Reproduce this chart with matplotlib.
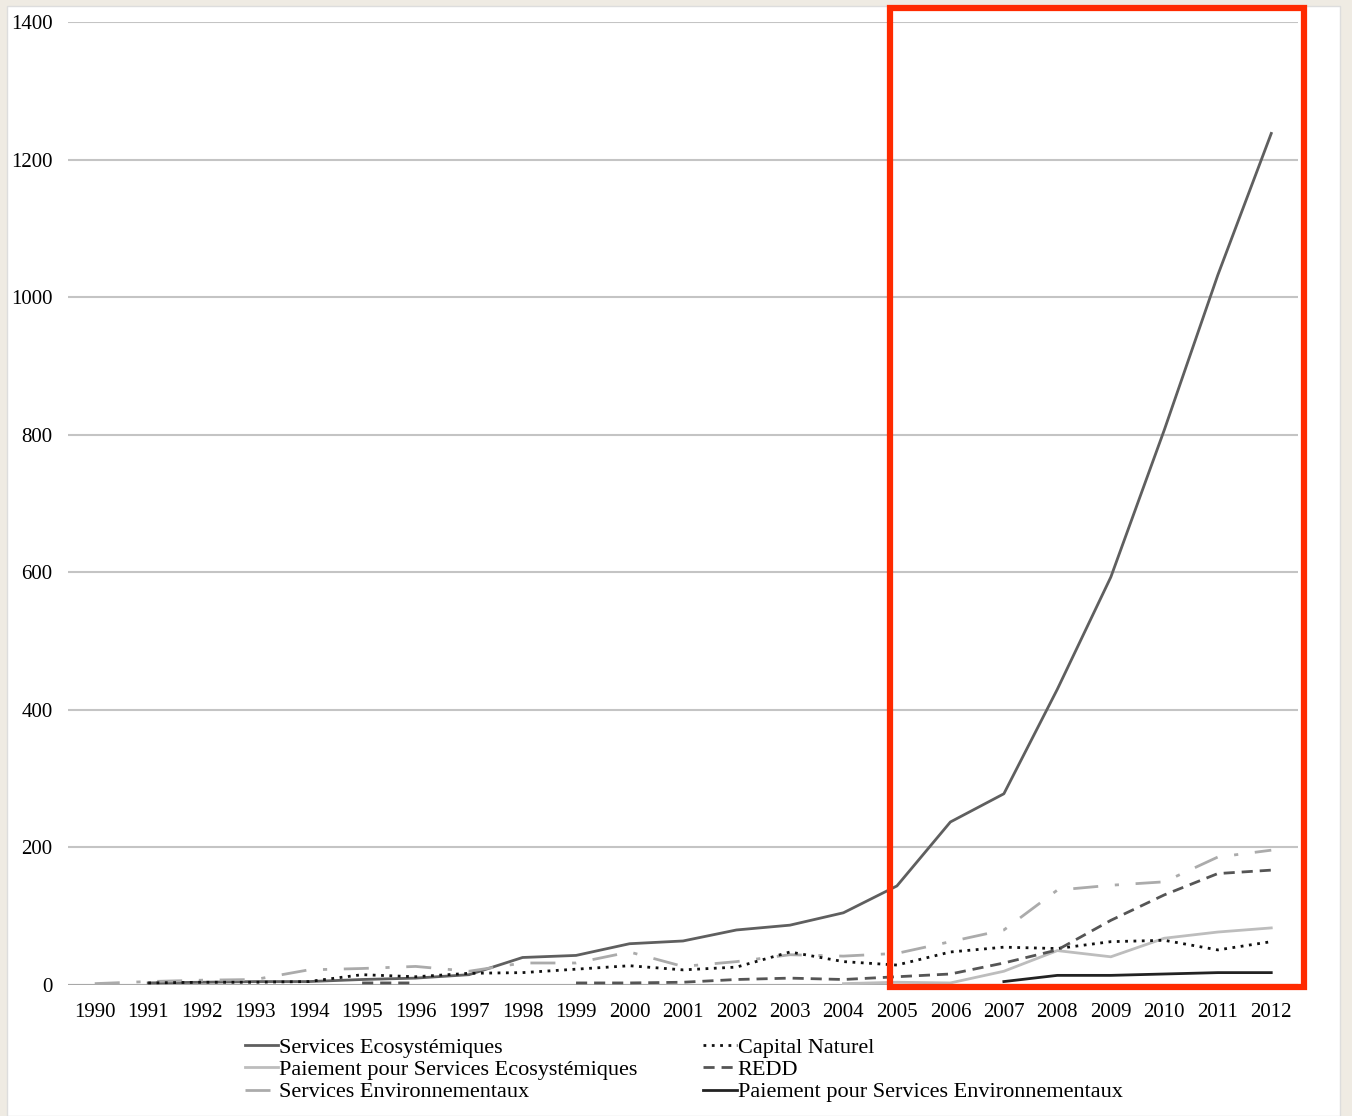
import numpy as np
import matplotlib.pyplot as plt
from matplotlib.patches import Rectangle

nan = np.nan
years = list(range(1990, 2013))

# Series (publications per year)
serv_eco = [nan, 3, 4, 5, 5, 8, 10, 15, 40, 43, 60, 64, 80, 87, 105,
            144, 237, 278, 430, 593, 807, 1032, 1238]
paie_serv_eco = [nan, nan, nan, nan, nan, nan, nan, nan, nan, nan, nan, nan, nan, nan, 2,
                 4, 3, 20, 50, 41, 68, 77, 83]
serv_env = [2, 5, 7, 8, 22, 24, 27, 20, 32, 32, 48, 27, 34, 44, 42,
            46, 63, 80, 138, 145, 150, 186, 196]
capital_nat = [nan, 3, 4, 4, 5, 15, 12, 17, 18, 23, 28, 22, 26, 48, 34,
               29, 48, 55, 53, 63, 65, 51, 63]
redd = [nan, nan, nan, nan, nan, 3, 3, nan, nan, 3, 3, 4, 8, 10, 8,
        12, 16, 32, 51, 94, 131, 162, 167]
paie_serv_env = [nan] * 17 + [5, 14, 14, 16, 18, 18]

labels = ['Services Ecosystémiques', 'Paiement pour Services Ecosystémiques',
          'Services Environnementaux', 'Capital Naturel', 'REDD',
          'Paiement pour Services Environnementaux']

plt.rcParams['font.family'] = ['Liberation Serif', 'DejaVu Serif']

fig = plt.figure(figsize=(13.52, 11.16), dpi=100)
fig.patch.set_facecolor('#efebe3')
fig.add_artist(Rectangle((7 / 1352, 0), 1333 / 1352, 1110 / 1116,
                         transform=fig.transFigure, facecolor='white',
                         edgecolor='#dddddd', lw=1, zorder=0))

ax = fig.add_axes([68 / 1352, 1 - 985 / 1116, 1230 / 1352, 963 / 1116])
ax.set_facecolor('none')

ax.plot(years, serv_eco, color='#5f5f5f', lw=2, ls='-', label=labels[0])
ax.plot(years, paie_serv_eco, color='#bdbdbd', lw=2, ls='-', label=labels[1])
ax.plot(years, serv_env, color='#ababab', lw=2, ls=(0, (9, 6, 1.5, 6)), label=labels[2])
ax.plot(years, capital_nat, color='#111111', lw=2, ls=(0, (1, 2)), label=labels[3])
ax.plot(years, redd, color='#555555', lw=2, ls=(0, (4, 2.5)), label=labels[4])
ax.plot(years, paie_serv_env, color='#222222', lw=2, ls='-', label=labels[5])

ax.set_xlim(1989.5, 2012.5)
ax.set_ylim(0, 1400)
ax.set_yticks(range(0, 1401, 200))
ax.set_xticks(years)
ax.yaxis.grid(True, color='#c4c4c4', lw=1.5)
ax.set_axisbelow(True)
for s in ax.spines.values():
    s.set_visible(False)
ax.axhline(0, color='#a8a8a8', lw=1.5, zorder=1)
ax.tick_params(length=0, labelsize=15)
ax.tick_params(axis='y', pad=11)
ax.tick_params(axis='x', pad=13)

leg = ax.legend(loc='upper left', bbox_to_anchor=(168 / 1230, -0.045), ncol=2,
                frameon=False, fontsize=16, handlelength=1.5, handletextpad=0.05,
                labelspacing=0.08, columnspacing=2.95, borderaxespad=0)

# highlight box
fig.add_artist(Rectangle((890 / 1352, 1 - 987 / 1116), 414 / 1352, 979 / 1116,
                         transform=fig.transFigure, fill=False,
                         edgecolor='#ff2a00', lw=4.5, zorder=10))

fig.savefig('out.png', dpi=100, facecolor=fig.get_facecolor())
